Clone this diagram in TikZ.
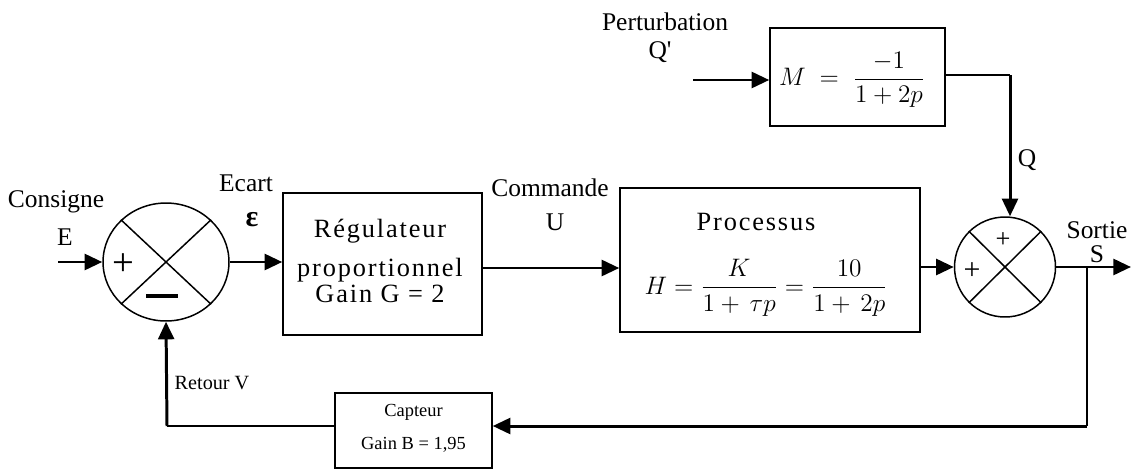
\documentclass[tikz,border=0pt]{standalone}
\usepackage{amsmath}
\usepackage{fontspec}
\setmainfont{Liberation Serif}
\usetikzlibrary{arrows.meta,shapes.geometric}
\begin{document}
\begin{tikzpicture}[x=0.02cm,y=-0.02cm,
  thinl/.style={line width=0.85pt},
  thickl/.style={line width=1.7pt},
  arr/.style={thickl,-{Triangle[length=10pt,width=9pt]}},
  blk/.style={draw,thinl,rectangle,inner sep=0pt},
  sumj/.style={draw,thinl,ellipse,inner sep=0pt},
  lbl/.style={font=\fontsize{14.5}{15}\selectfont,inner sep=0pt},
  btxt/.style={font=\fontsize{15}{16}\selectfont\addfontfeature{LetterSpace=7},align=center,inner sep=0pt},
  stxt/.style={font=\fontsize{10.5}{12}\selectfont,align=center,inner sep=0pt}]
\useasboundingbox (0,0) rectangle (1131,470);
% junctions
\node[sumj,minimum width=2.52cm,minimum height=2.36cm] (s1) at (166,262) {};
\draw[thinl] (s1.north west) -- (s1.south east) (s1.north east) -- (s1.south west);
\node[sumj,minimum width=2.02cm,minimum height=2.0cm] (s2) at (1005,267) {};
\draw[thinl] (s2.north west) -- (s2.south east) (s2.north east) -- (s2.south west);
\node[inner sep=0pt,font=\fontsize{22}{22}\selectfont] (p1) at (123,265) {+};
\node[inner sep=0pt] (m1) at (162,296) {\rule{18pt}{2.2pt}};
\node[inner sep=0pt,font=\fontsize{15}{15}\selectfont] (p2) at (1003,240) {+};
\node[inner sep=0pt,font=\fontsize{17}{17}\selectfont] (p3) at (972,271) {+};
% blocks
\node[blk,minimum width=3.98cm,minimum height=2.84cm] (reg) at (382.5,264) {};
\node[btxt] (regt) at (380,261) {Régulateur\\[6pt]proportionnel\\[-1pt]Gain G = 2};
\node[blk,minimum width=6.0cm,minimum height=2.88cm] (proc) at (770,260) {};
\node[btxt] (proct) at (756,222) {Processus};
\node[inner sep=0pt,font=\fontsize{14.5}{15}\selectfont] (procf) at (766,288) {$H = \dfrac{K}{1+\,\tau p} = \dfrac{10}{1+\,2p}$};
\node[blk,minimum width=3.5cm,minimum height=1.96cm] (M) at (857.5,77) {};
\node[inner sep=0pt,font=\fontsize{14.5}{15}\selectfont] (Mf) at (852,80) {$M\; = \;\dfrac{-1}{1+2p}$};
\node[blk,minimum width=3.14cm,minimum height=1.5cm] (cap) at (413.5,430.5) {};
\node[stxt] (capt) at (413.5,428) {Capteur\\[7pt]Gain B = 1,95};
% labels
\node[lbl] (lcons) at (56,202) {Consigne};
\node[lbl] (lE) at (65,237) {E};
\node[lbl] (lecart) at (246,183) {Ecart};
\node[lbl,font=\fontsize{17}{17}\selectfont\bfseries] (leps) at (252,220) {ε};
\node[lbl] (lcom) at (550,188) {Commande};
\node[lbl] (lU) at (555,222) {U};
\node[lbl] (lsort) at (1097,230) {Sortie};
\node[lbl] (lS) at (1097,254) {S};
\node[lbl] (lpert) at (665,22) {Perturbation};
\node[lbl] (lQp) at (660,52) {Q\textquotesingle};
\node[lbl] (lQ) at (1027,160) {Q};
\node[lbl,font=\fontsize{11.5}{12}\selectfont] (lret) at (212,383) {Retour V};
% coordinates
\coordinate (Ein) at (58,262);
\coordinate (Out) at (1131,267);
\coordinate (br) at (1087,267);
\coordinate (brd) at (1087,426);
\coordinate (fbl) at (167,426);
\coordinate (Qin) at (693,80);
\coordinate (Mr) at (1010,75);
% connectors
\draw[arr] (Ein) -- (s1.west);
\draw[arr] (s1.east) -- (reg.west |- s1.east);
\draw[arr] (reg.east |- 0,268) -- (proc.west |- 0,268);
\draw[arr] (proc.east |- s2.west) -- (s2.west);
\draw[arr] (s2.east) -- (Out);
\draw[thinl] (br) -- (brd);
\draw[arr] (brd) -- (cap.east |- brd);
\draw[thinl] (cap.west |- fbl) -- (fbl);
\draw[arr] (fbl) -- (s1.south);
\draw[arr] (Qin) -- (M.west |- Qin);
\draw[thinl] (M.east |- Mr) -- (Mr);
\draw[arr] (Mr) -- (Mr |- s2.north);
\end{tikzpicture}
\end{document}
